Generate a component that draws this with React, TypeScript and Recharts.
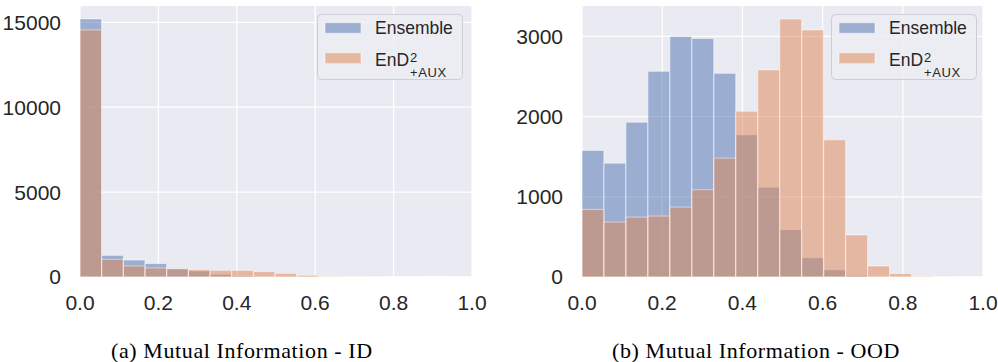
import { BarChart, Bar, XAxis, YAxis, CartesianGrid, Legend } from 'recharts';

// bin centres (the histograms use 20 bins over ~[0, 1.1], the axis stops at 1.0)
const ID_BINS = [
  0.0277, 0.083, 0.1383, 0.1936, 0.2489, 0.3042, 0.3595, 0.4148, 0.4701,
  0.5254, 0.5807, 0.636, 0.6913, 0.7466, 0.8019, 0.8572, 0.9125, 0.9678,
];
const ID_ENSEMBLE = [15200, 1275, 1000, 790, 500, 355, 160, 60, 30, 15, 8, 5, 3, 2, 1, 0, 0, 0];
const ID_END = [14550, 1040, 650, 530, 480, 435, 395, 390, 315, 215, 100, 40, 20, 10, 5, 3, 1, 0];

const OOD_BINS = [
  0.0274, 0.0822, 0.137, 0.1918, 0.2466, 0.3014, 0.3562, 0.411, 0.4658,
  0.5206, 0.5754, 0.6302, 0.685, 0.7398, 0.7946, 0.8494, 0.9042, 0.959,
];
const OOD_ENSEMBLE = [1578, 1420, 1930, 2565, 3000, 2976, 2540, 1773, 1120, 590, 240, 90, 20, 3, 0, 0, 0, 0];
const OOD_END = [843, 685, 747, 760, 872, 1088, 1482, 2067, 2583, 3218, 3081, 1711, 525, 137, 42, 10, 2, 0];

const X_TICKS = [0, 0.2, 0.4, 0.6, 0.8, 1.0];
const ID_Y_TICKS = [0, 5000, 10000, 15000];
const OOD_Y_TICKS = [0, 1000, 2000, 3000];

const BLUE = '#4C72B0';
const ORANGE = '#DD8452';
const TEXT = '#262626';
const SANS = '"Liberation Sans", Arial, sans-serif';

const CHART_HEIGHT = 320;
const MARGIN_TOP = 6;
const X_AXIS_HEIGHT = 43;

interface PanelProps {
  bins: number[];
  ensemble: number[];
  end: number[];
  binWidth: number;
  yMax: number;
  yTicks: number[];
  width: number;
  yAxisWidth: number;
  marginRight: number;
  legendLeft: number;
}

function HistLegend(): JSX.Element {
  return (
    <svg width={147} height={67} style={{ display: 'block', fontFamily: SANS }}>
      <rect x={0.5} y={0.5} width={145} height={65} rx={4} fill="#ECECF3" fillOpacity={0.85} stroke="#CDCDD2" />
      <rect x={8} y={8.7} width={36} height={10.6} fill={BLUE} fillOpacity={0.5} stroke="#fff" strokeOpacity={0.5} />
      <rect x={8} y={38.7} width={36} height={11} fill={ORANGE} fillOpacity={0.5} stroke="#fff" strokeOpacity={0.5} />
      <text x={58} y={19.5} fontSize={17.5} fill={TEXT}>Ensemble</text>
      <text x={58} y={51.5} fontSize={17.5} fill={TEXT}>EnD</text>
      <text x={93} y={47.5} fontSize={13} fill={TEXT}>2</text>
      <text x={93} y={62.7} fontSize={13} fill={TEXT} letterSpacing={0.6}>+AUX</text>
    </svg>
  );
}

function HistPanel({
  bins,
  ensemble,
  end,
  binWidth,
  yMax,
  yTicks,
  width,
  yAxisWidth,
  marginRight,
  legendLeft,
}: PanelProps): JSX.Element {
  const data = bins.map((mid, i) => ({ mid, ensemble: ensemble[i], end: end[i] }));
  const plotWidth = width - yAxisWidth - marginRight;
  const barSize = binWidth * plotWidth - 0.1;

  return (
    <BarChart
      width={width}
      height={CHART_HEIGHT}
      data={data}
      margin={{ top: MARGIN_TOP, right: marginRight, bottom: 0, left: 0 }}
      barGap={-barSize}
    >
      <CartesianGrid
        fill="#EAEAF2"
        fillOpacity={1}
        stroke="#ffffff"
        strokeWidth={1.3}
        horizontalValues={yTicks}
        verticalValues={X_TICKS}
      />
      <XAxis
        dataKey="mid"
        type="number"
        domain={[0, 1]}
        ticks={X_TICKS}
        interval={0}
        allowDataOverflow
        height={X_AXIS_HEIGHT}
        axisLine={false}
        tickLine={false}
        tickSize={0}
        tickMargin={18}
        tick={{ fontSize: 21, fill: TEXT, fontFamily: SANS }}
        tickFormatter={(v: number) => v.toFixed(1)}
      />
      <YAxis
        type="number"
        domain={[0, yMax]}
        ticks={yTicks}
        interval={0}
        width={yAxisWidth}
        axisLine={false}
        tickLine={false}
        tickSize={0}
        tickMargin={19}
        tick={{ fontSize: 21, fill: TEXT, fontFamily: SANS }}
      />
      <Legend
        layout="horizontal"
        align="center"
        verticalAlign="middle"
        wrapperStyle={{ top: 14, left: legendLeft, width: 147, height: 67 }}
        content={() => <HistLegend />}
      />
      <Bar
        dataKey="ensemble"
        name="Ensemble"
        fill={BLUE}
        fillOpacity={0.5}
        stroke="#ffffff"
        strokeOpacity={0.5}
        strokeWidth={1}
        barSize={barSize}
        isAnimationActive={false}
      />
      <Bar
        dataKey="end"
        name="EnD2+AUX"
        fill={ORANGE}
        fillOpacity={0.5}
        stroke="#ffffff"
        strokeOpacity={0.5}
        strokeWidth={1}
        barSize={barSize}
        isAnimationActive={false}
      />
    </BarChart>
  );
}

const captionStyle: React.CSSProperties = {
  position: 'absolute',
  top: 339.5,
  fontFamily: '"Liberation Serif", "Times New Roman", serif',
  fontSize: 22,
  lineHeight: '22px',
  letterSpacing: 0.6,
  color: '#000',
  whiteSpace: 'nowrap',
};

export default function App(): JSX.Element {
  return (
    <div style={{ position: 'absolute', left: 0, top: 0, width: 998, height: 362, background: '#fff', overflow: 'hidden' }}>
      <div style={{ position: 'absolute', left: 0, top: 0 }}>
        <HistPanel
          bins={ID_BINS}
          ensemble={ID_ENSEMBLE}
          end={ID_END}
          binWidth={0.0553}
          yMax={15960}
          yTicks={ID_Y_TICKS}
          width={490}
          yAxisWidth={80}
          marginRight={18}
          legendLeft={317}
        />
      </div>
      <div style={{ position: 'absolute', left: 500, top: 0 }}>
        <HistPanel
          bins={OOD_BINS}
          ensemble={OOD_ENSEMBLE}
          end={OOD_END}
          binWidth={0.0548}
          yMax={3380}
          yTicks={OOD_Y_TICKS}
          width={498}
          yAxisWidth={82}
          marginRight={15}
          legendLeft={330.5}
        />
      </div>
      <div style={{ ...captionStyle, left: 111 }}>(a) Mutual Information - ID</div>
      <div style={{ ...captionStyle, left: 612 }}>(b) Mutual Information - OOD</div>
    </div>
  );
}
